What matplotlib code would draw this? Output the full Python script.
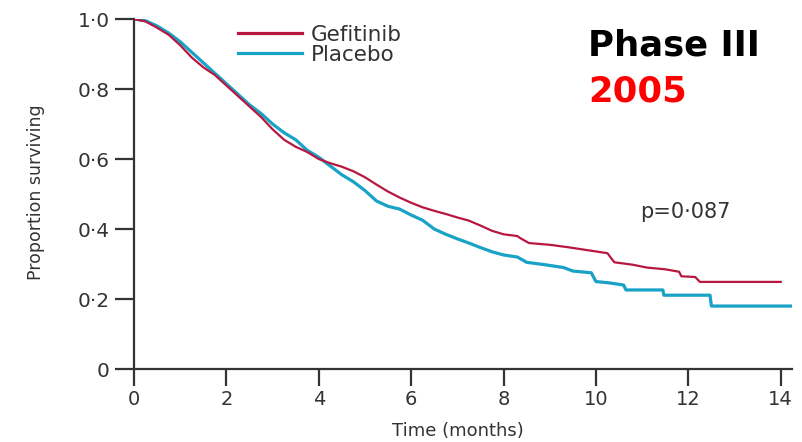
"""Kaplan-Meier style survival curves: gefitinib vs placebo (phase III, 2005)."""

import matplotlib
matplotlib.use("Agg")
import matplotlib.pyplot as plt

# Gefitinib arm (time in months, proportion surviving)
gef_time = [0, 0.25, 0.5, 0.75, 1.0, 1.25, 1.5, 1.75, 2.0, 2.25, 2.5, 2.75, 3.0, 3.25,
            3.5, 3.75, 4.0, 4.25, 4.5, 4.75, 5.0, 5.25, 5.5, 5.75, 6.0, 6.25, 6.5, 6.75,
            7.0, 7.25, 7.5, 7.75, 8.0, 8.3, 8.35, 8.55, 9.0, 9.4, 9.8, 10.25, 10.3, 10.4,
            10.8, 11.1, 11.5, 11.8, 11.85, 12.15, 12.25, 14.0]
gef_surv = [1.0, 0.993, 0.975, 0.955, 0.925, 0.89, 0.862, 0.84, 0.81, 0.78, 0.75, 0.72,
            0.685, 0.655, 0.635, 0.62, 0.60, 0.588, 0.578, 0.565, 0.548, 0.527, 0.507,
            0.49, 0.475, 0.462, 0.452, 0.443, 0.433, 0.424, 0.41, 0.395, 0.385, 0.38,
            0.375, 0.36, 0.355, 0.348, 0.34, 0.331, 0.322, 0.305, 0.298, 0.29, 0.285,
            0.278, 0.265, 0.263, 0.249, 0.249]

# Placebo arm
plc_time = [0, 0.25, 0.5, 0.75, 1.0, 1.25, 1.5, 1.75, 2.0, 2.25, 2.5, 2.75, 3.0, 3.25,
            3.5, 3.75, 4.0, 4.25, 4.5, 4.75, 5.0, 5.25, 5.5, 5.75, 6.0, 6.25, 6.5, 6.75,
            7.0, 7.25, 7.5, 7.75, 8.0, 8.3, 8.5, 8.9, 9.3, 9.5, 9.9, 10.0, 10.3, 10.6,
            10.65, 11.45, 11.47, 12.47, 12.5, 14.25]
plc_surv = [1.0, 0.995, 0.98, 0.96, 0.935, 0.905, 0.875, 0.845, 0.815, 0.785, 0.755,
            0.73, 0.70, 0.675, 0.655, 0.625, 0.605, 0.58, 0.555, 0.535, 0.51, 0.48,
            0.465, 0.457, 0.44, 0.425, 0.40, 0.385, 0.372, 0.36, 0.347, 0.335, 0.326,
            0.32, 0.305, 0.298, 0.29, 0.28, 0.275, 0.25, 0.246, 0.24, 0.226, 0.226,
            0.211, 0.211, 0.18, 0.18]

x_ticks = [0, 2, 4, 6, 8, 10, 12, 14]
y_ticks = [0, 0.2, 0.4, 0.6, 0.8, 1.0]
y_tick_labels = ["0", "0\u00b72", "0\u00b74", "0\u00b76", "0\u00b78", "1\u00b70"]

GEF_COLOR = "#b8173f"
PLC_COLOR = "#17a2c6"
AXIS_COLOR = "#333333"

plt.rcParams["font.family"] = ["DejaVu Sans"]

fig = plt.figure(figsize=(8.03, 4.42), dpi=100)
ax = fig.add_axes([0.1669, 0.165, 0.8197, 0.792])

ax.plot(gef_time, gef_surv, color=GEF_COLOR, lw=1.6, label="Gefitinib", zorder=3)
ax.plot(plc_time, plc_surv, color=PLC_COLOR, lw=2.3, label="Placebo", zorder=2)

ax.set_xlim(0, 14.25)
ax.set_ylim(0, 1.0)
ax.set_xticks(x_ticks)
ax.set_yticks(y_ticks)
ax.set_yticklabels(y_tick_labels)

for side in ("top", "right"):
    ax.spines[side].set_visible(False)
for side in ("left", "bottom"):
    ax.spines[side].set_color(AXIS_COLOR)
    ax.spines[side].set_linewidth(1.6)
ax.spines["left"].set_bounds(0, 1.0)

ax.tick_params(axis="y", length=14, width=1.6, color=AXIS_COLOR, pad=3.5,
               labelsize=14.5, labelcolor=AXIS_COLOR)
ax.tick_params(axis="x", length=12, width=1.6, color=AXIS_COLOR, pad=3,
               labelsize=14, labelcolor=AXIS_COLOR)

ax.set_xlabel("Time (months)", fontsize=13, color=AXIS_COLOR)
ax.xaxis.set_label_coords(0.492, -0.152)
ax.set_ylabel("Proportion surviving", fontsize=12.5, color=AXIS_COLOR)
ax.yaxis.set_label_coords(-0.136, 0.505)

leg = ax.legend(loc="upper left", bbox_to_anchor=(0.158, 0.983), frameon=False,
                fontsize=15.5, handlelength=2.95, handletextpad=0.45, labelspacing=0.0,
                borderaxespad=0, borderpad=0)
for txt in leg.get_texts():
    txt.set_color(AXIS_COLOR)
for line in leg.get_lines():
    line.set_linewidth(2.3)

ax.text(10.95, 0.449, "p=0\u00b7087", fontsize=15, color=AXIS_COLOR, va="center")

fig.text(0.732, 0.897, "Phase III", fontsize=25.5, fontweight="bold", color="black",
         va="center")
fig.text(0.732, 0.792, "2005", fontsize=25.5, fontweight="bold", color="#ff0000",
         va="center")

fig.savefig("out.png", dpi=100)
